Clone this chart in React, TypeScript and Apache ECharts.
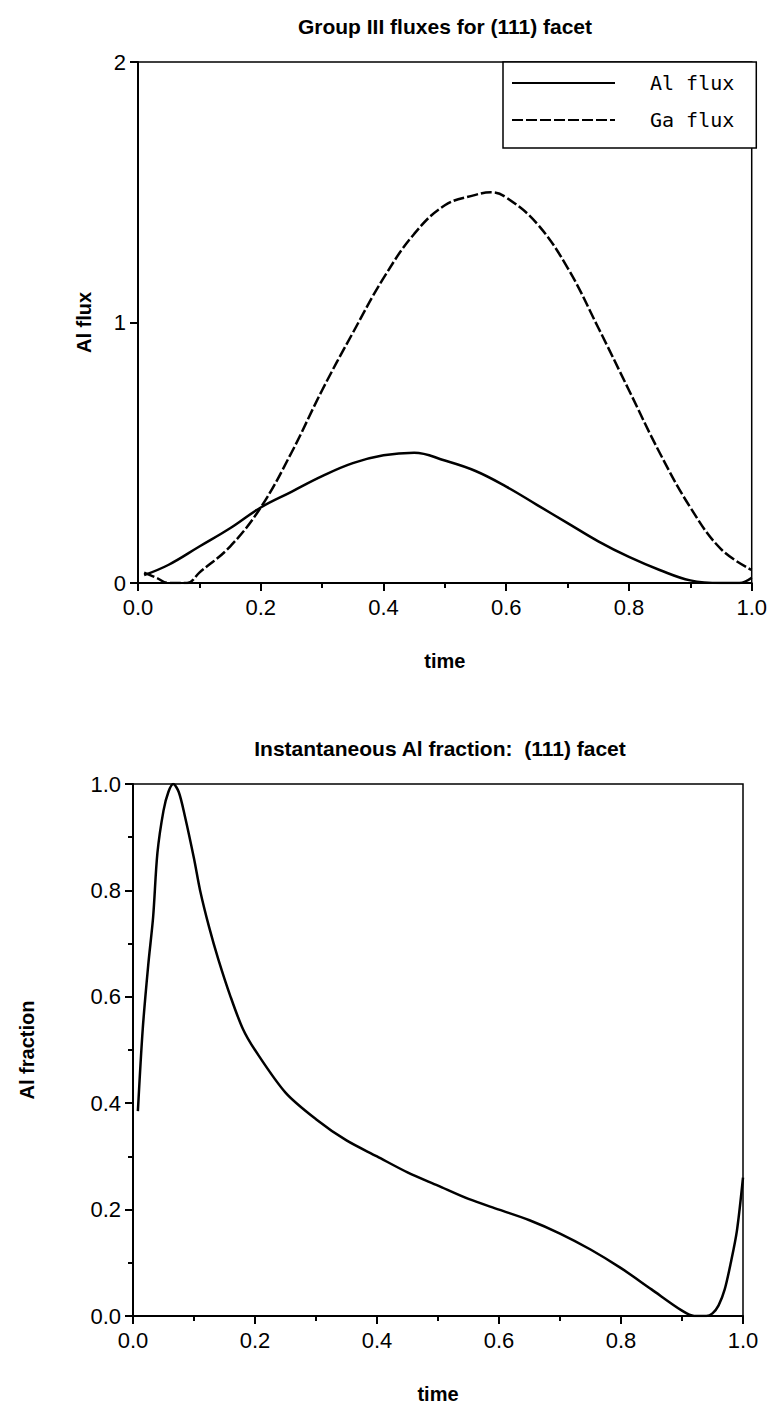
import React, { useEffect, useRef } from "react";
import * as echarts from "echarts";

const topTitle = "Group III fluxes for (111) facet";
const bottomTitle = "Instantaneous Al fraction:  (111) facet";

const alFluxTime = [0.01, 0.05, 0.1, 0.15, 0.2, 0.25, 0.3, 0.35, 0.4, 0.45, 0.5, 0.55, 0.6, 0.65, 0.7, 0.75, 0.8, 0.85, 0.9, 0.95, 0.98, 1.0];
const alFluxValue = [0.03, 0.07, 0.14, 0.21, 0.29, 0.35, 0.41, 0.46, 0.49, 0.5, 0.47, 0.43, 0.37, 0.3, 0.23, 0.16, 0.1, 0.05, 0.01, 0.0, 0.0, 0.02];

const gaFluxTime = [0.01, 0.03, 0.05, 0.08, 0.1, 0.15, 0.2, 0.25, 0.3, 0.35, 0.4, 0.45, 0.5, 0.55, 0.575, 0.6, 0.65, 0.7, 0.75, 0.8, 0.85, 0.9, 0.95, 1.0];
const gaFluxValue = [0.04, 0.02, 0.0, 0.0, 0.04, 0.14, 0.29, 0.5, 0.74, 0.96, 1.17, 1.34, 1.45, 1.49, 1.5, 1.48, 1.38, 1.21, 0.98, 0.74, 0.5, 0.29, 0.13, 0.05];

const fracTime = [0.008, 0.016, 0.025, 0.033, 0.04, 0.05, 0.058, 0.066, 0.075, 0.085, 0.1, 0.11, 0.125, 0.14, 0.16, 0.18, 0.2, 0.25, 0.3, 0.35, 0.4, 0.45, 0.5, 0.55, 0.6, 0.65, 0.7, 0.75, 0.8, 0.85, 0.9, 0.92, 0.94, 0.95, 0.96, 0.97, 0.98, 0.99, 1.0];
const fracValue = [0.385, 0.54, 0.66, 0.75, 0.87, 0.95, 0.985, 1.0, 0.985, 0.94, 0.86, 0.8, 0.73, 0.67, 0.6, 0.54, 0.5, 0.42, 0.37, 0.33, 0.3, 0.27, 0.245, 0.22, 0.2, 0.18, 0.155, 0.125, 0.09, 0.05, 0.01, 0.0, 0.0, 0.005, 0.02, 0.05, 0.1, 0.16, 0.26];

const zip = (a: number[], b: number[]) => a.map((v, i) => [v, b[i]]);

const FONT = "Liberation Sans, Arial, Helvetica, sans-serif";

export default function App() {
  const ref = useRef<HTMLDivElement>(null);
  useEffect(() => {
    if (!ref.current) return;
    const chart = echarts.init(ref.current, undefined, { renderer: "svg" });
    const axisCommon = {
      axisLine: { show: true, onZero: false, lineStyle: { color: "#000", width: 2 } },
      axisTick: { show: true, inside: false, length: 8, lineStyle: { color: "#000", width: 2 } },
      splitLine: { show: false },
      axisLabel: { color: "#000", fontSize: 22, fontFamily: FONT },
      nameTextStyle: { color: "#000", fontSize: 20, fontWeight: "bold" as const, fontFamily: FONT },
    };
    const xAxisCommon = {
      ...axisCommon,
      type: "value" as const,
      min: 0,
      max: 1,
      interval: 0.2,
      minorTick: { show: true, splitNumber: 2, length: 5, lineStyle: { color: "#000", width: 2 } },
      axisLabel: { ...axisCommon.axisLabel, margin: 13, formatter: (v: number) => v.toFixed(1) },
      name: "time",
      nameLocation: "middle" as const,
      nameGap: 68,
    };
    chart.setOption({
      animation: false,
      backgroundColor: "#fff",
      graphic: [
        { type: "text", x: 445, y: 26, style: { text: topTitle, font: `bold 21px ${FONT}`, fill: "#000", textAlign: "center", textVerticalAlign: "middle" } },
        { type: "text", x: 440, y: 748, style: { text: bottomTitle, font: `bold 21px ${FONT}`, fill: "#000", textAlign: "center", textVerticalAlign: "middle" } },
      ],
      legend: {
        show: true,
        orient: "vertical",
        left: 503,
        top: 62,
        data: ["Al flux", "Ga flux"],
        backgroundColor: "#fff",
        borderColor: "#000",
        borderWidth: 1.5,
        borderRadius: 0,
        padding: [11, 22, 18, 8],
        itemWidth: 103,
        itemHeight: 14,
        itemGap: 17,
        itemStyle: { opacity: 0 },
        textStyle: { color: "#000", fontSize: 20, fontFamily: "DejaVu Sans Mono", lineHeight: 20, padding: [0, 0, 0, 30] },
      },
      grid: [
        { left: 138, right: 17, top: 62, bottom: 838, show: true, borderColor: "#000", borderWidth: 1.5, backgroundColor: "transparent" },
        { left: 133, right: 27, top: 784, bottom: 105, show: true, borderColor: "#000", borderWidth: 1.5, backgroundColor: "transparent" },
      ],
      xAxis: [
        { ...xAxisCommon, gridIndex: 0 },
        { ...xAxisCommon, gridIndex: 1 },
      ],
      yAxis: [
        {
          ...axisCommon,
          gridIndex: 0,
          type: "value",
          min: 0,
          max: 2,
          interval: 1,
          axisLabel: { ...axisCommon.axisLabel, margin: 12 },
          name: "Al flux",
          nameLocation: "middle",
          nameGap: 44,
        },
        {
          ...axisCommon,
          gridIndex: 1,
          type: "value",
          min: 0,
          max: 1,
          interval: 0.2,
          minorTick: { show: true, splitNumber: 2, length: 5, lineStyle: { color: "#000", width: 2 } },
          axisLabel: { ...axisCommon.axisLabel, margin: 12, formatter: (v: number) => v.toFixed(1) },
          name: "Al fraction",
          nameLocation: "middle",
          nameGap: 96,
        },
      ],
      series: [
        {
          name: "Al flux",
          type: "line",
          xAxisIndex: 0,
          yAxisIndex: 0,
          data: zip(alFluxTime, alFluxValue),
          smooth: 0.4,
          symbol: "none",
          lineStyle: { color: "#000", width: 2.5, type: "solid" },
          itemStyle: { color: "#000" },
        },
        {
          name: "Ga flux",
          type: "line",
          xAxisIndex: 0,
          yAxisIndex: 0,
          data: zip(gaFluxTime, gaFluxValue),
          smooth: 0.4,
          symbol: "none",
          lineStyle: { color: "#000", width: 2.5, type: [11, 3] },
          itemStyle: { color: "#000" },
        },
        {
          name: "Al fraction",
          type: "line",
          xAxisIndex: 1,
          yAxisIndex: 1,
          data: zip(fracTime, fracValue),
          smooth: 0.3,
          symbol: "none",
          lineStyle: { color: "#000", width: 2.5 },
          itemStyle: { color: "#000" },
        },
      ],
    });
    return () => chart.dispose();
  }, []);
  return <div ref={ref} style={{ position: "absolute", left: 0, top: 0, width: 770, height: 1421, background: "#fff" }} />;
}
